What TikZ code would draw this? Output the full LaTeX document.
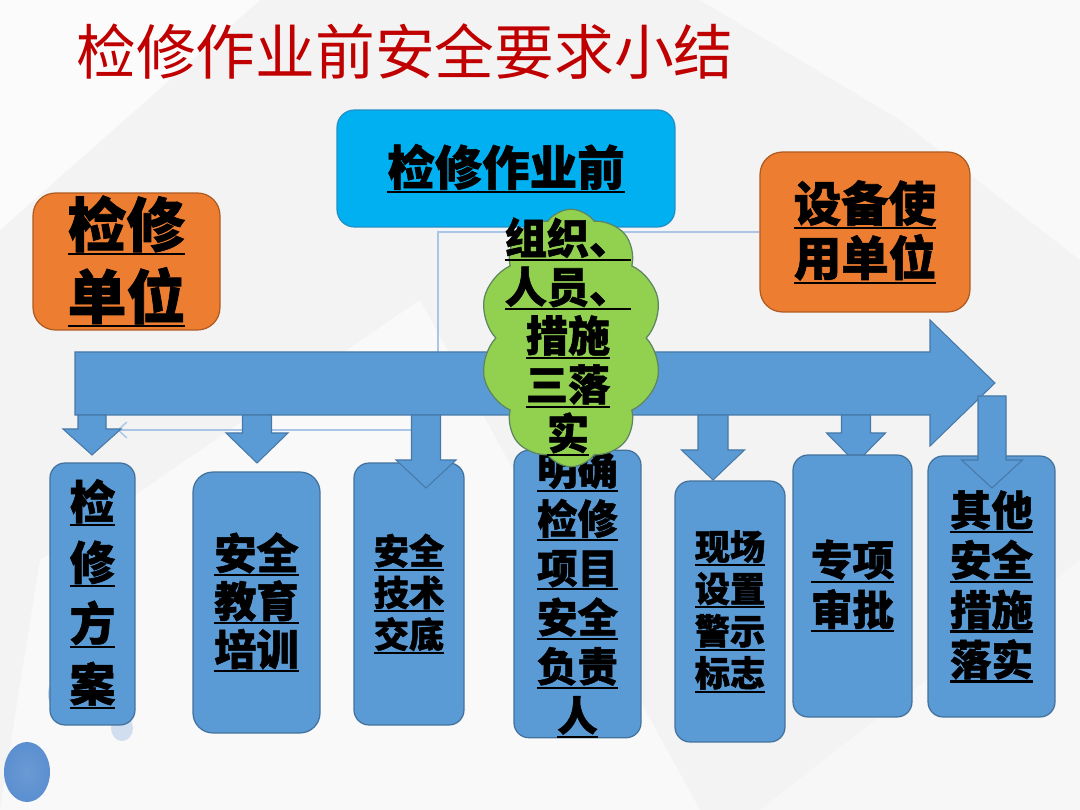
\documentclass[tikz,border=0pt]{standalone}
\usepackage{fontspec}
\setmainfont{Noto Sans CJK SC}[BoldFeatures={FakeBold=1.3}]
\usetikzlibrary{shapes.symbols,arrows.meta}
\definecolor{bgc}{HTML}{F3F3F3}
\definecolor{bfill}{HTML}{5B9BD5}
\definecolor{bbord}{HTML}{41719C}
\definecolor{topfill}{HTML}{00B0F0}
\definecolor{topbord}{HTML}{1F8FC8}
\definecolor{ofill}{HTML}{ED7D31}
\definecolor{obord}{HTML}{AE5A21}
\definecolor{cfill}{HTML}{92D050}
\definecolor{cbord}{HTML}{5C8560}
\definecolor{connc}{HTML}{A9C5E8}
\definecolor{titlered}{HTML}{C00000}
\definecolor{dotc}{HTML}{5B8FD0}
\newcommand\ulc[1]{\setbox0=\hbox{#1}\vtop{\hbox{\copy0}\kern0.6pt\hrule height 1.2pt depth 0pt width \wd0}}
\newcommand\fs[2]{\fontsize{#1}{#2}\selectfont\bfseries}
\newcommand\downarr[6]{\path[darr] ({#1-#2},#3) -- ({#1+#2},#3) -- ({#1+#2},#4) -- ({#1+#5},#4) -- (#1,#6) -- ({#1-#5},#4) -- ({#1-#2},#4) -- cycle;}
\pgfdeclarelayer{back}
\pgfdeclarelayer{mid}
\pgfsetlayers{back,mid,main}
\begin{document}
\begin{tikzpicture}[x=0.02cm,y=-0.02cm,
  darr/.style={fill=bfill,draw=bbord!80!bfill,line width=0.6pt},
  bbox/.style={draw=bbord,fill=bfill,rounded corners=0.3cm,line width=0.7pt,inner sep=0pt,align=center},
  obox/.style={draw=obord,fill=ofill,rounded corners=0.45cm,line width=0.7pt,inner sep=0pt,align=center},
  conn/.style={draw=connc,line width=0.8pt}]
\path[use as bounding box] (0,0) rectangle (1080,810);
\begin{pgfonlayer}{back}
\fill[bgc] (0,0) rectangle (1080,810);
\fill[white,opacity=0.7] (0,0) -- (260,0) -- (0,230) -- cycle;
\fill[white,opacity=0.5] (40,560) -- (420,300) -- (700,810) -- (0,810) -- cycle;
\fill[white,opacity=0.5] (700,0) -- (1080,0) -- (1080,260) -- (900,120) -- cycle;
\fill[white,opacity=0.4] (760,810) -- (1080,560) -- (1080,810) -- cycle;
\fill[dotc!45,opacity=0.8] (62,694) ellipse (14 and 18);
\fill[dotc!35,opacity=0.8] (122,728) ellipse (11 and 13);
\shade[inner color=dotc!90,outer color=dotc] (27,772) ellipse (23 and 30);
\end{pgfonlayer}
% title
\node[font=\fontsize{34}{40}\selectfont,text=titlered,inner sep=0pt] (title) at (405,52) {检修作业前安全要求小结};
% big arrow
\path[darr] (75,352) -- (930,352) -- (930,320) -- (995,383) -- (930,446) -- (930,415) -- (75,415) -- cycle;
% arrows behind boxes
\downarr{92}{14}{415}{429}{29}{455}
\downarr{257}{14.5}{415}{433}{31}{463}
\downarr{592}{15}{415}{433}{32}{462}
\downarr{713}{15}{415}{450}{31.5}{480}
\downarr{856}{14.5}{415}{433}{29.5}{463}
% bottom boxes
\node[bbox,minimum width=1.7cm,minimum height=5.24cm,font=\fs{26}{34.6}] (b1) at (92.5,594) {\ulc{检}\\\ulc{修}\\\ulc{方}\\\ulc{案}};
\node[bbox,minimum width=2.54cm,minimum height=5.22cm,rounded corners=0.4cm,font=\fs{24}{27.4}] (b2) at (256.5,602.5) {\ulc{安全}\\\ulc{教育}\\\ulc{培训}};
\node[bbox,minimum width=2.2cm,minimum height=5.24cm,font=\fs{20}{23.8}] (b3) at (409,594) {\ulc{安全}\\\ulc{技术}\\\ulc{交底}};
\node[bbox,minimum width=2.54cm,minimum height=5.24cm,font=\fs{23}{28}] (b4) at (577.5,594) {\ulc{明确}\\\ulc{检修}\\\ulc{项目}\\\ulc{安全}\\\ulc{负责}\\\ulc{人}};
\node[bbox,minimum width=2.2cm,minimum height=5.22cm,font=\fs{20}{24}] (b5) at (730,611.5) {\ulc{现场}\\\ulc{设置}\\\ulc{警示}\\\ulc{标志}};
\node[bbox,minimum width=2.38cm,minimum height=5.24cm,font=\fs{23.6}{28.4}] (b6) at (852.5,586) {\ulc{专项}\\\ulc{审批}};
\node[bbox,minimum width=2.54cm,minimum height=5.22cm,font=\fs{23.6}{28.4}] (b7) at (991.5,586.5) {\ulc{其他}\\\ulc{安全}\\\ulc{措施}\\\ulc{落实}};
% arrows over boxes
\downarr{426}{14.5}{415}{460}{30}{488}
\downarr{992}{14}{396}{460}{30.5}{488}
% top boxes
\node[draw=topbord,fill=topfill,rounded corners=0.35cm,line width=0.7pt,inner sep=0pt,minimum width=6.76cm,minimum height=2.34cm,font=\fs{27}{31}] (top) at (506,168.5) {\ulc{检修作业前}};
\node[obox,minimum width=3.74cm,minimum height=2.74cm,font=\fs{33.5}{41}] (lb) at (126.5,261.5) {\ulc{检修}\\\ulc{单位}};
\node[obox,minimum width=4.2cm,minimum height=3.2cm,font=\fs{27}{31}] (rb) at (865,232) {\ulc{设备使}\\\ulc{用单位}};
% thin connector
\coordinate (cj) at (438,430);
\coordinate (ce) at (117,430);
\begin{pgfonlayer}{mid}
\draw[conn,-{Straight Barb[length=5pt,width=9pt]}] (rb.west) -| (cj) -- (ce);
\end{pgfonlayer}
% cloud
\node[cloud,cloud puffs=10,cloud puff arc=110,aspect=0.7,draw=cbord,fill=cfill,line width=0.7pt,minimum width=3.65cm,minimum height=5.15cm,inner sep=0pt] (cl) at (571,338) {};
\node[align=center,inner sep=0pt,font=\fs{24}{27.8}] (clt) at (568,337) {\ulc{组织、}\\\ulc{人员、}\\\ulc{措施}\\\ulc{三落}\\\ulc{实}};
\end{tikzpicture}
\end{document}
